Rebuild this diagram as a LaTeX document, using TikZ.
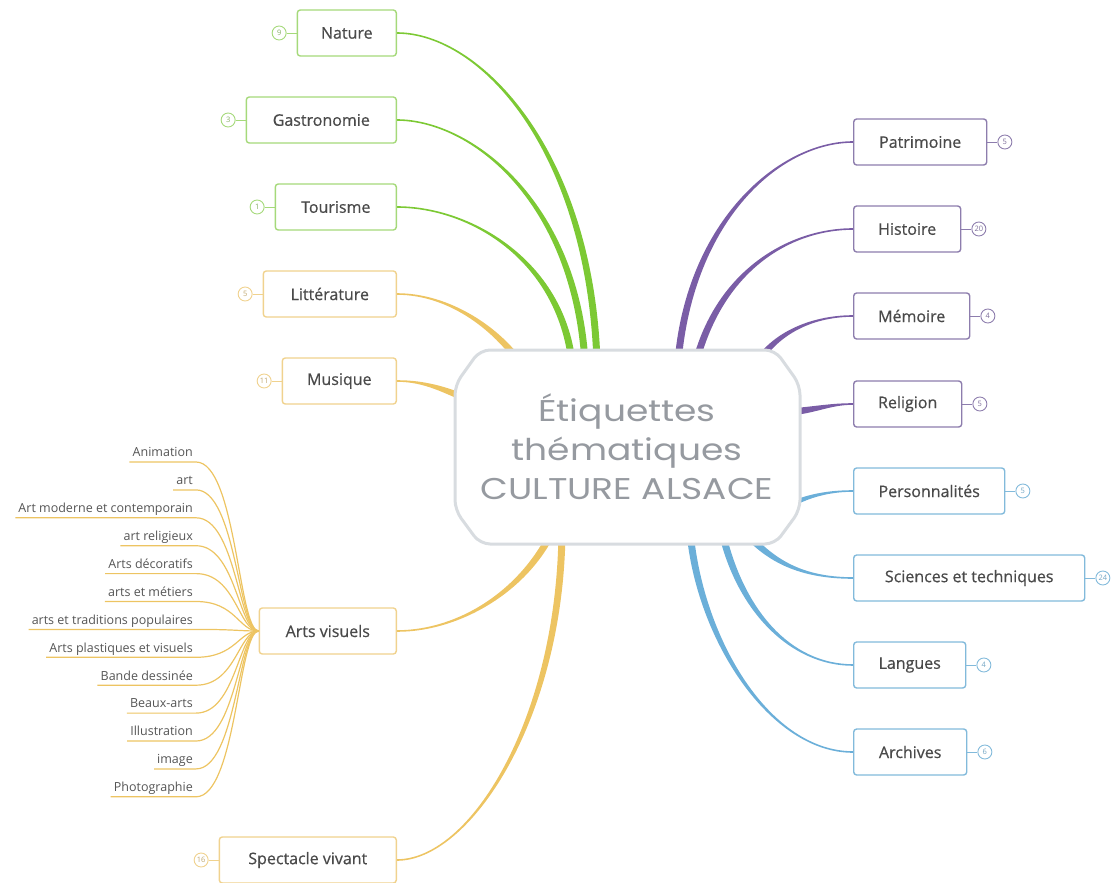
\documentclass[tikz,border=0pt]{standalone}
\usepackage{fontspec}
\setmainfont{Open Sans}
\newfontfamily\boxfont{Open Sans}[FakeBold=0.6]
\newfontfamily\ctrfont{Poppins}[FakeStretch=1.2]
\usetikzlibrary{positioning,calc,backgrounds}

\definecolor{grn}{HTML}{7CC934}
\definecolor{grnbox}{HTML}{A5D97A}
\definecolor{gld}{HTML}{EDC462}
\definecolor{gldbox}{HTML}{F0D28E}
\definecolor{prp}{HTML}{7A5DA6}
\definecolor{prpbox}{HTML}{8D7DAD}
\definecolor{blu}{HTML}{6BAFD9}
\definecolor{blubox}{HTML}{82BADB}
\definecolor{ctrline}{HTML}{D8DCE0}
\definecolor{ctrtxt}{HTML}{969AA0}
\definecolor{boxtxt}{HTML}{4A4A4A}
\definecolor{leaftxt}{HTML}{555555}

% tapered branch: colour, from, control 1, control 2, to
\newcommand\twig[5]{%
  \fill[#1] ($(#2)!0.8pt!90:(#3)$) .. controls ($(#3)!0.8pt!-90:(#2)$) and ($(#4)!3.5pt!90:(#5)$) .. ($(#5)!3.5pt!-90:(#4)$)
    -- ($(#5)!3.5pt!90:(#4)$) .. controls ($(#4)!3.5pt!-90:(#5)$) and ($(#3)!0.8pt!90:(#2)$) .. ($(#2)!0.8pt!-90:(#3)$) -- cycle;}

\tikzset{
  topic/.style={draw, rounded corners=3pt, line width=1.4pt, fill=white, minimum height=46, inner xsep=0pt,
    text=boxtxt, font=\boxfont\fontsize{16}{19}\selectfont},
  gbox/.style={topic, draw=grnbox},
  ybox/.style={topic, draw=gldbox},
  pbox/.style={topic, draw=prpbox},
  bbox/.style={topic, draw=blubox},
  count/.style={circle, draw, line width=0.9pt, fill=white, minimum size=14, inner sep=0pt,
    font=\fontsize{7.5}{8}\selectfont},
  gcount/.style={count, draw=grnbox, text=grnbox!80!black},
  ycount/.style={count, draw=gldbox, text=gldbox!80!black},
  pcount/.style={count, draw=prpbox, text=prpbox!90!black},
  bcount/.style={count, draw=blubox, text=blubox!90!black},
  ctrtext/.style={align=center, text=ctrtxt, font=\ctrfont\fontsize{30}{39}\selectfont},
  leaf/.style={anchor=south east, inner xsep=3pt, inner ysep=2pt, text height=9pt, text depth=3pt,
    text=leaftxt, font=\fontsize{12.5}{14}\selectfont},
  leafline/.style={draw=gld, line width=1.2pt},
}

\begin{document}
\begin{tikzpicture}[x=1pt,y=-1pt]
\useasboundingbox (0,0) rectangle (1116,883);

\node[ctrtext] (ctr) at (627,447) {Étiquettes\\thématiques\\CULTURE ALSACE};

\node[gbox, minimum width=99, anchor=east] (nat) at (397,33) {Nature};
\node[gcount, left=10pt of nat] (natn) {9};
\node[gbox, minimum width=150, anchor=east] (gas) at (397,120) {Gastronomie};
\node[gcount, left=10pt of gas] (gasn) {3};
\node[gbox, minimum width=121, anchor=east] (tou) at (397,207) {Tourisme};
\node[gcount, left=10pt of tou] (toun) {1};
\node[ybox, minimum width=133, anchor=east] (lit) at (397,294) {Littérature};
\node[ycount, left=10pt of lit] (litn) {5};
\node[ybox, minimum width=114, anchor=east] (mus) at (397,381) {Musique};
\node[ycount, left=10pt of mus] (musn) {11};
\node[ybox, minimum width=137, anchor=east] (av) at (397,631) {Arts visuels};
\node[ybox, minimum width=177, anchor=east] (spe) at (397,860) {Spectacle vivant};
\node[ycount, left=10pt of spe] (spen) {16};

\node[pbox, minimum width=133, anchor=west] (pat) at (853,142) {Patrimoine};
\node[pcount, right=10pt of pat] (patn) {5};
\node[pbox, minimum width=107, anchor=west] (his) at (853,229) {Histoire};
\node[pcount, right=10pt of his] (hisn) {20};
\node[pbox, minimum width=116, anchor=west] (mem) at (853,316) {Mémoire};
\node[pcount, right=10pt of mem] (memn) {4};
\node[pbox, minimum width=108, anchor=west] (rel) at (853,404) {Religion};
\node[pcount, right=10pt of rel] (reln) {5};
\node[bbox, minimum width=151, anchor=west] (per) at (853,491) {Personnalités};
\node[bcount, right=10pt of per] (pern) {5};
\node[bbox, minimum width=231, anchor=west] (sci) at (853,578) {Sciences et techniques};
\node[bcount, right=10pt of sci] (scin) {24};
\node[bbox, minimum width=112, anchor=west] (lan) at (853,665) {Langues};
\node[bcount, right=10pt of lan] (lann) {4};
\node[bbox, minimum width=113, anchor=west] (arc) at (853,752) {Archives};
\node[bcount, right=10pt of arc] (arcn) {6};

\draw[grnbox, line width=0.9pt] (natn) -- (nat) (gasn) -- (gas) (toun) -- (tou);
\draw[gldbox, line width=0.9pt] (litn) -- (lit) (musn) -- (mus) (spen) -- (spe);
\draw[prpbox, line width=0.9pt] (patn) -- (pat) (hisn) -- (his) (memn) -- (mem) (reln) -- (rel);
\draw[blubox, line width=0.9pt] (pern) -- (per) (scin) -- (sci) (lann) -- (lan) (arcn) -- (arc);

\coordinate (enat) at ($(ctr)+(-30,-85)$);
\coordinate (egas) at ($(ctr)+(-42,-85)$);
\coordinate (etou) at ($(ctr)+(-55,-85)$);
\coordinate (elit) at ($(ctr)+(-102,-77)$);
\coordinate (emus) at ($(ctr)+(-157,-47)$);
\coordinate (eav) at ($(ctr)+(-74,83)$);
\coordinate (espe) at ($(ctr)+(-65,85)$);
\coordinate (epat) at ($(ctr)+(51,-85)$);
\coordinate (ehis) at ($(ctr)+(69,-85)$);
\coordinate (emem) at ($(ctr)+(125,-75)$);
\coordinate (erel) at ($(ctr)+(163,-35)$);
\coordinate (eper) at ($(ctr)+(138,75)$);
\coordinate (esci) at ($(ctr)+(118,85)$);
\coordinate (elan) at ($(ctr)+(95,85)$);
\coordinate (earc) at ($(ctr)+(63,85)$);

\begin{pgfonlayer}{background}
  \twig{grn}{nat.east}{480,33}{590,150}{enat}
  \twig{grn}{gas.east}{470,120}{575,200}{egas}
  \twig{grn}{tou.east}{470,207}{560,260}{etou}
  \twig{gld}{lit.east}{450,294}{500,330}{elit}
  \twig{gld}{mus.east}{425,381}{445,390}{emus}
  \twig{gld}{av.east}{460,631}{525,590}{eav}
  \twig{gld}{spe.east}{470,860}{560,720}{espe}
  \twig{prp}{pat.west}{780,142}{690,220}{epat}
  \twig{prp}{his.west}{790,229}{720,270}{ehis}
  \twig{prp}{mem.west}{810,316}{770,335}{emem}
  \twig{prp}{rel.west}{830,404}{815,410}{erel}
  \twig{blu}{per.west}{820,491}{790,500}{eper}
  \twig{blu}{sci.west}{800,578}{770,560}{esci}
  \twig{blu}{lan.west}{790,665}{740,610}{elan}
  \twig{blu}{arc.west}{770,752}{700,640}{earc}
  \draw[ctrline, fill=white, line width=3pt, rounded corners=10pt]
    ($(ctr)+(-147,-97)$) -- ($(ctr)+(148,-97)$) -- ($(ctr)+(173,-62)$) -- ($(ctr)+(173,63)$)
    -- ($(ctr)+(148,97)$) -- ($(ctr)+(-147,97)$) -- ($(ctr)+(-172,63)$) -- ($(ctr)+(-172,-62)$) -- cycle;
\end{pgfonlayer}

\foreach \lbl [count=\k from 0] in {Animation, art, Art moderne et contemporain, art religieux,
    Arts décoratifs, arts et métiers, arts et traditions populaires, Arts plastiques et visuels,
    Bande dessinée, Beaux-arts, Illustration, image, Photographie} {
  \node[leaf] (lf\k) at (196,{462+27.9*\k}) {\lbl};
  \draw[leafline] (lf\k.south west) -- (lf\k.south east) .. controls +(40,0) and ($(av.west)+(-20,0)$) .. (av.west);
}
\end{tikzpicture}
\end{document}
